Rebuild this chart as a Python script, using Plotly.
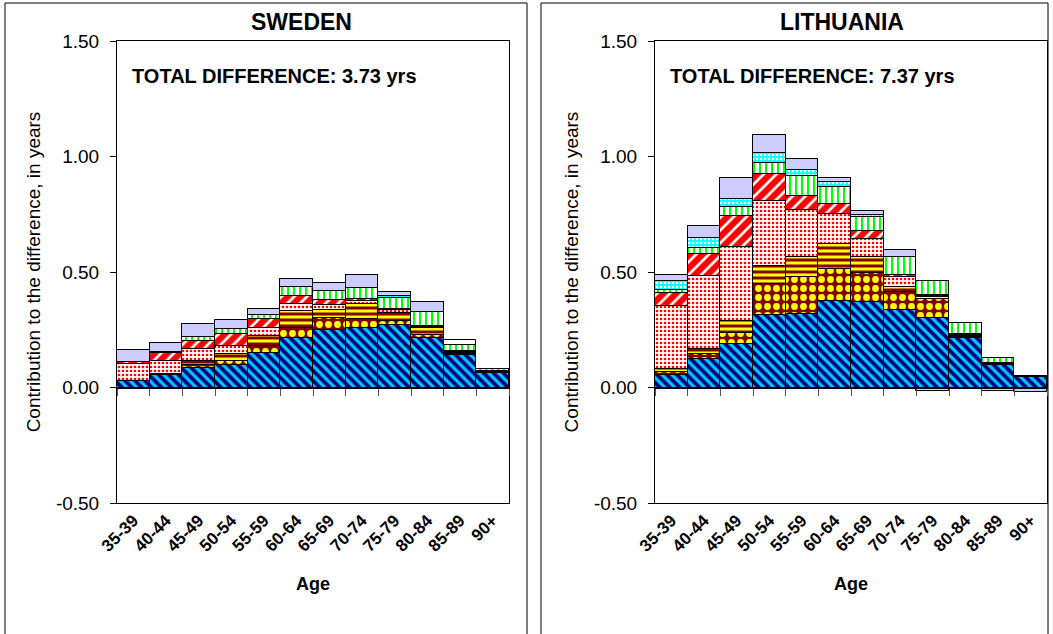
import plotly.graph_objects as go

# ---------------- data ----------------
ages = ["35-39", "40-44", "45-49", "50-54", "55-59", "60-64",
        "65-69", "70-74", "75-79", "80-84", "85-89", "90+"]

y_tick_values = [-0.5, 0.0, 0.5, 1.0, 1.5]
y_tick_labels = ["-0.50", "0.00", "0.50", "1.00", "1.50"]

panel_titles = ["SWEDEN", "LITHUANIA"]
total_labels = ["TOTAL DIFFERENCE: 3.73 yrs", "TOTAL DIFFERENCE: 7.37 yrs"]

series_names = ["Blue hatched", "Dotted dark red", "Yellow striped", "Red speckled",
                "Red diagonal", "Black", "Green vertical", "Cyan dotted",
                "Lavender", "White"]

sweden_blue     = [0.027, 0.056, 0.084, 0.097, 0.150, 0.216, 0.247, 0.259, 0.271, 0.216, 0.140, 0.061]
sweden_dots     = [0.003, 0.004, 0.014, 0.019, 0.031, 0.043, 0.054, 0.039, 0.019, 0.010, -0.005, -0.004]
sweden_stripes  = [0.000, 0.000, 0.016, 0.031, 0.040, 0.071, 0.034, 0.064, 0.031, 0.033, 0.000, 0.000]
sweden_speckles = [0.073, 0.053, 0.053, 0.034, 0.037, 0.031, 0.021, 0.014, 0.014, 0.000, 0.000, 0.000]
sweden_reddiag  = [0.009, 0.036, 0.036, 0.049, 0.039, 0.036, 0.021, 0.007, 0.005, 0.000, 0.000, 0.000]
sweden_black    = [0.000, 0.003, 0.000, 0.000, 0.000, 0.000, 0.000, 0.000, 0.000, 0.007, 0.019, 0.011]
sweden_green    = [0.000, 0.000, 0.017, 0.023, 0.016, 0.040, 0.040, 0.047, 0.047, 0.060, 0.023, 0.010]
sweden_cyan     = [0.000, 0.000, 0.000, 0.000, 0.000, 0.000, 0.000, 0.000, 0.007, 0.000, 0.000, 0.000]
sweden_lavender = [0.049, 0.040, 0.053, 0.041, 0.027, 0.031, 0.037, 0.057, 0.021, 0.043, 0.000, 0.000]
sweden_white    = [0.000, 0.000, 0.000, 0.000, 0.000, 0.000, 0.000, 0.000, 0.000, 0.000, 0.023, 0.000]

lith_blue     = [0.056, 0.123, 0.187, 0.313, 0.320, 0.374, 0.370, 0.334, 0.303, 0.213, 0.099, 0.045]
lith_dots     = [0.010, 0.023, 0.050, 0.136, 0.160, 0.139, 0.124, 0.079, 0.081, 0.000, 0.000, 0.000]
lith_stripes  = [0.016, 0.021, 0.050, 0.076, 0.083, 0.110, 0.069, 0.021, -0.016, 0.007, -0.015, -0.006]
lith_speckles = [0.270, 0.314, 0.323, 0.284, 0.207, 0.126, 0.079, 0.043, 0.007, 0.000, 0.000, 0.000]
lith_reddiag  = [0.057, 0.099, 0.131, 0.114, 0.057, 0.047, 0.035, 0.008, 0.000, 0.000, 0.000, 0.000]
lith_black    = [0.000, 0.000, 0.000, 0.000, 0.000, 0.000, 0.000, 0.000, 0.008, 0.010, 0.006, 0.005]
lith_green    = [0.014, 0.026, 0.039, 0.051, 0.090, 0.073, 0.060, 0.079, 0.064, 0.049, 0.024, 0.000]
lith_cyan     = [0.037, 0.043, 0.037, 0.043, 0.024, 0.020, 0.010, 0.000, 0.000, 0.000, 0.000, 0.000]
lith_lavender = [0.029, 0.050, 0.089, 0.078, 0.050, 0.017, 0.015, 0.033, 0.000, 0.000, 0.000, -0.012]
lith_white    = [0.000, 0.000, 0.000, 0.000, 0.000, 0.000, 0.000, 0.000, 0.000, 0.000, 0.000, 0.000]

sweden_series = [sweden_blue, sweden_dots, sweden_stripes, sweden_speckles, sweden_reddiag,
                 sweden_black, sweden_green, sweden_cyan, sweden_lavender, sweden_white]
lith_series = [lith_blue, lith_dots, lith_stripes, lith_speckles, lith_reddiag,
               lith_black, lith_green, lith_cyan, lith_lavender, lith_white]

# ---------------- styles ----------------
styles = [
    dict(shape="\\", bg="#000080", fg="#00CCFF", size=7, solidity=0.45),
    dict(shape=".", bg="#800000", fg="#FFFF00", size=9, solidity=0.45),
    dict(shape="-", bg="#FFFF00", fg="#800000", size=6, solidity=0.5),
    dict(shape=".", bg="#FFFFFF", fg="#FF0000", size=4, solidity=0.35),
    dict(shape="/", bg="#FF0000", fg="#FFFFFF", size=9, solidity=0.3),
    dict(shape="", bg="#000000", fg="#000000", size=8, solidity=0.3),
    dict(shape="|", bg="#FFFFFF", fg="#00FF00", size=6, solidity=0.35),
    dict(shape=".", bg="#00FFFF", fg="#FFFFFF", size=4, solidity=0.35),
    dict(shape="", bg="#CCCCFF", fg="#CCCCFF", size=8, solidity=0.3),
    dict(shape="", bg="#FFFFFF", fg="#FFFFFF", size=8, solidity=0.3),
]

W, H = 1053, 634
FONT = "Liberation Sans, Arial, sans-serif"

# pixel geometry of the two plot areas
px_left = [(117, 509), (655, 1047)]
py_top, py_bot = 41, 503
ydom = [(H - py_bot) / H, (H - py_top) / H]
y_range = [-0.5, 1.5]
y_zero_frac = ydom[0] + (0 - y_range[0]) / (y_range[1] - y_range[0]) * (ydom[1] - ydom[0])

fig = go.Figure()

for p, data in enumerate([sweden_series, lith_series]):
    xa = "x" if p == 0 else "x2"
    ya = "y" if p == 0 else "y2"
    for name, vals, st in zip(series_names, data, styles):
        fig.add_trace(go.Bar(
            x=ages, y=vals, name=name, xaxis=xa, yaxis=ya, showlegend=False,
            marker=dict(
                color=st["bg"],
                line=dict(color="black", width=1),
                pattern=dict(shape=st["shape"], fgcolor=st["fg"], bgcolor=st["bg"],
                             size=st["size"], solidity=st["solidity"], fillmode="replace"),
            ),
        ))
    # invisible trace to hold the zero-line tick axis
    fig.add_trace(go.Scatter(x=[], y=[], xaxis="x3" if p == 0 else "x4", yaxis=ya,
                             showlegend=False, hoverinfo="skip"))

boundaries = [i - 0.5 for i in range(len(ages) + 1)]

layout = dict(
    width=W, height=H,
    margin=dict(l=0, r=0, t=0, b=0, autoexpand=False),
    paper_bgcolor="white", plot_bgcolor="white",
    barmode="relative", bargap=0,
    font=dict(family=FONT, color="black"),
    showlegend=False,
)

shapes = []
annotations = []
frames = [(5, 527), (541, 1048)]
title_cx = [301, 842]
total_x = [130, 668]

for p in range(2):
    xl, xr = px_left[p]
    dom = [xl / W, xr / W]
    xk = "xaxis" if p == 0 else "xaxis2"
    yk = "yaxis" if p == 0 else "yaxis2"
    tk = "xaxis3" if p == 0 else "xaxis4"
    yname = "y" if p == 0 else "y2"
    xname = "x" if p == 0 else "x2"
    layout[xk] = dict(
        domain=dom, anchor=yname, type="category", categoryarray=ages,
        showline=True, mirror=True, linecolor="black", linewidth=1,
        ticks="", tickangle=-45, showgrid=False, zeroline=False, automargin=False,
        tickfont=dict(size=17, family=FONT, weight="bold"),
        title=dict(text="Age", font=dict(size=18, family=FONT, weight="bold"), standoff=22),
    )
    layout[yk] = dict(
        domain=ydom, anchor=xname, range=y_range,
        tickmode="array", tickvals=y_tick_values, ticktext=y_tick_labels,
        showline=True, mirror=True, linecolor="black", linewidth=1,
        ticks="outside", ticklen=6, tickcolor="black", showgrid=False, zeroline=False,
        automargin=False, ticklabelstandoff=7,
        tickfont=dict(size=19, family=FONT),
        title=dict(text="Contribution to the difference, in years",
                   font=dict(size=19, family=FONT), standoff=10),
    )
    layout[tk] = dict(
        domain=dom, overlaying=xname, anchor="free", position=y_zero_frac,
        range=[-0.5, len(ages) - 0.5], tickmode="array", tickvals=boundaries,
        ticks="outside", ticklen=7, tickcolor="#555555", showticklabels=False,
        showline=True, linecolor="black", linewidth=1, showgrid=False, zeroline=False,
        automargin=False,
    )
    fx0, fx1 = frames[p]
    shapes.append(dict(type="rect", xref="paper", yref="paper",
                       x0=fx0 / W, x1=fx1 / W, y0=-0.02, y1=(H - 3) / H,
                       line=dict(color="black", width=1), fillcolor="rgba(0,0,0,0)", layer="below"))
    annotations.append(dict(text=panel_titles[p], xref="paper", yref="paper",
                            x=title_cx[p] / W, y=(H - 22) / H, showarrow=False,
                            xanchor="center", yanchor="middle",
                            font=dict(size=23, family=FONT, weight="bold")))
    annotations.append(dict(text=total_labels[p], xref="paper", yref="paper",
                            x=total_x[p] / W, y=(H - 76) / H, showarrow=False,
                            xanchor="left", yanchor="middle",
                            font=dict(size=20, family=FONT, weight="bold")))

layout["shapes"] = shapes
layout["annotations"] = annotations
fig.update_layout(**layout)

fig.write_html("out.html", config={"displayModeBar": False},
               post_script="document.body.style.margin='0px';")
